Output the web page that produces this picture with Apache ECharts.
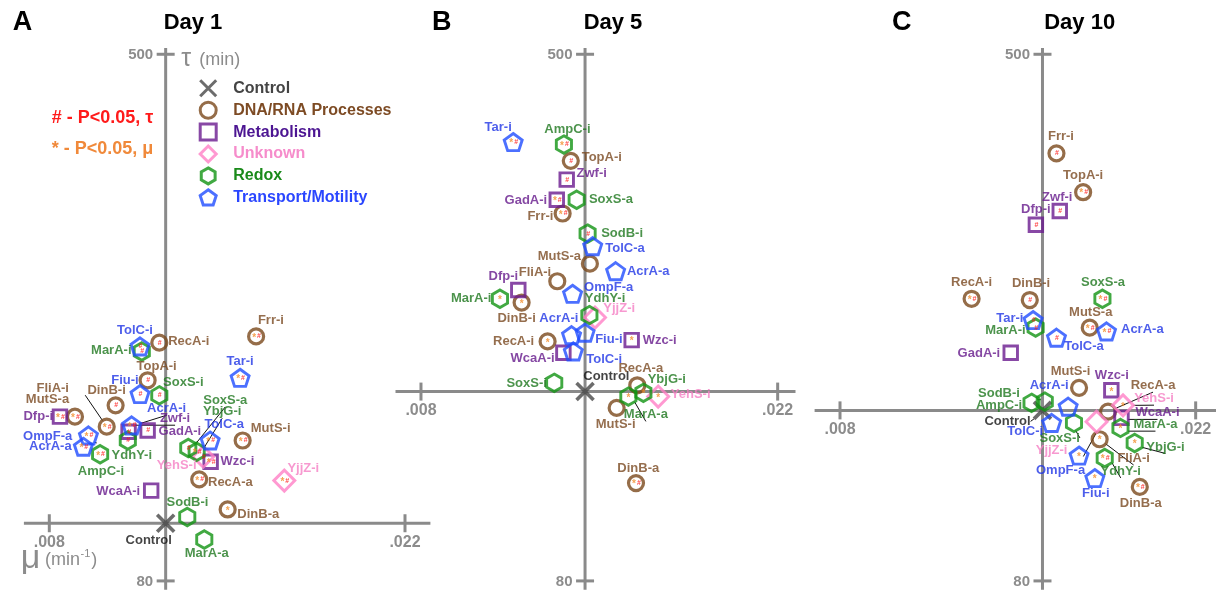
<!DOCTYPE html>
<html><head><meta charset="utf-8">
<script src="https://cdn.jsdelivr.net/npm/echarts@6/dist/echarts.min.js"></script>
<style>html,body{margin:0;padding:0;background:#fff}#chart{width:1216px;height:596px}</style>
</head><body><div id="chart"></div>
<script>
// ---------------- data ----------------
const groupKeys = ['C', 'D', 'M', 'U', 'R', 'T'];
const groupNames = ['Control', 'DNA/RNA Processes', 'Metabolism', 'Unknown', 'Redox', 'Transport/Motility'];
const panelLetters = ['A', 'B', 'C'];
const panelTitles = ['Day 1', 'Day 5', 'Day 10'];
const xTickValues = [0.008, 0.022];
const xTickLabels = ['.008', '.022'];
const yTickValues = [500, 80];
const yTickLabels = ['500', '80'];

const day1Names = ['Control','TolC-i','MarA-i','RecA-i','TopA-i','Fiu-i','SoxS-i','DinB-i','FliA-i','MutS-a','Dfp-i','AcrA-i','Zwf-i','GadA-i','YdhY-i','OmpF-a','AcrA-a','AmpC-i','WcaA-i','Frr-i','Tar-i','SoxS-a','YbjG-i','TolC-a','MutS-i','YehS-i','Wzc-i','RecA-a','YjjZ-i','SodB-i','DinB-a','MarA-a'];
const day1Groups = ['C','T','R','D','D','T','R','D','D','D','M','T','M','M','R','T','T','R','M','D','T','R','R','T','D','U','M','D','U','R','D','R'];
const day1Mu = [0.01258,0.01157,0.01164,0.01233,0.01187,0.01157,0.01233,0.01061,0.01026,0.00901,0.00842,0.01124,0.01112,0.01187,0.01109,0.00954,0.00934,0.01000,0.01201,0.01614,0.01551,0.01347,0.01380,0.01433,0.01561,0.01406,0.01435,0.01390,0.01725,0.01343,0.01502,0.01410];
const day1Tau = [126,267,263,270,240,229,228,220,203,211,211,204,199,200,192,196,187,181,152,275,242,186,183,192,192,179,175,161,160,131,137,113];
const day1Sig = ['','#','#','#','#','#','#','#','*#','*#','*#','*#','#','#','#','*#','*#','*#','','*#','*#','#','*#','*#','*#','#','*#','*#','*#','','*',''];

const day5Names = ['Control','Tar-i','AmpC-i','TopA-i','Zwf-i','GadA-i','SoxS-a','Frr-i','SodB-i','TolC-a','MutS-a','AcrA-a','FliA-i','Dfp-i','MarA-i','DinB-i','OmpF-a','YdhY-i','YjjZ-i','AcrA-i','Fiu-i','Wzc-i','RecA-i','WcaA-i','TolC-i','SoxS-i','RecA-a','YbjG-i','MarA-a','YehS-i','MutS-i','DinB-a'];
const day5Groups = ['C','T','R','D','M','M','R','D','R','T','D','T','D','M','R','D','T','R','U','T','T','M','D','M','T','R','D','R','R','U','D','D'];
const day5Mu = [0.01444,0.01162,0.01361,0.01388,0.01372,0.01333,0.01411,0.01356,0.01454,0.01474,0.01463,0.01564,0.01335,0.01182,0.01110,0.01195,0.01395,0.01461,0.01483,0.01391,0.01444,0.01627,0.01297,0.01359,0.01398,0.01323,0.01649,0.01673,0.01614,0.01731,0.01568,0.01644];
const day5Tau = [231,430,428,415,400,384,384,373,357,347,333,327,319,312,305,302,309,292,290,276,278,272,271,262,263,238,236,230,227,227,218,158];
const day5Sig = ['','*#','*#','#','#','*#','','*#','#','','','','','','*','*','','','','','','*','*','','','','','*','*','*','','*#'];

const day10Names = ['Control','Frr-i','TopA-i','Zwf-i','Dfp-i','RecA-i','DinB-i','SoxS-a','Tar-i','MarA-i','MutS-a','AcrA-a','TolC-a','GadA-i','MutS-i','Wzc-i','RecA-a','YehS-i','WcaA-i','MarA-a','YjjZ-i','FliA-i','YbjG-i','YdhY-i','OmpF-a','Fiu-i','DinB-a','SoxS-i','TolC-i','AcrA-i','SodB-i','AmpC-i'];
const day10Groups = ['C','D','D','M','M','D','D','R','T','R','D','T','T','M','D','M','D','U','M','R','U','D','R','R','T','T','D','R','T','T','R','R'];
const day10Mu = [0.01597,0.01652,0.01757,0.01665,0.01571,0.01318,0.01547,0.01833,0.01560,0.01570,0.01783,0.01849,0.01652,0.01472,0.01741,0.01868,0.01855,0.01914,0.01908,0.01904,0.01810,0.01822,0.01960,0.01842,0.01741,0.01803,0.01980,0.01721,0.01633,0.01698,0.01606,0.01554];
const day10Tau = [216,421,390,375,364,305,304,305,288,282,282,279,274,262,234,232,215,220,210,202,207,193,190,178,180,162,155,206,206,219,223,222];
const day10Sig = ['','#','*#','#','#','*#','#','*#','#','#','*#','*#','#','','','*','','*','','*','','*','*','*#','*','*','*#','','','','',''];

// ---------------- label placement (style, px offsets of label centre) ----------------
const day1LabelOffsets = [[-17,17,0],[-5,-16,0],[-30.5,-1,0],[29.5,-1.6,0],[9,-14,0],[-15,-14,0],[24,-13,0],[-9,-15,0],[-54,-38,1],[-27.5,-17,1],[-21.7,0,0],[35,-16.7,1],[46.5,-13,1],[32.3,0.7,0],[4,15,0],[-40.8,1,1],[-33,0,0],[0.8,16.7,0],[-33,0.4,0],[14.8,-16,0],[0,-16,0],[37,-47.6,1],[25.6,-40,1],[14,-16,0],[28,-12.3,0],[-26.6,8.3,0],[26.8,0,0],[31.2,3.3,0],[19,-11.7,0],[0.2,-14.4,0],[30.6,5,0],[2.4,14.3,0]];
const day5LabelOffsets = [[21.3,-15,0],[-15,-15,0],[3.5,-15,0],[31,-3,0],[25,-6,0],[-30.9,0.7,0],[34.3,0,0],[-22.2,2.7,0],[34.5,0,0],[32.3,2.6,0],[-30.5,-7.6,0],[32.6,0,0],[-22.3,-8.4,0],[-15,-13.4,0],[-28.8,0,0],[-5,15.6,0],[36.1,-6,0],[15.7,-16.7,0],[24.2,-8.7,0],[-12.7,-16.7,0],[23.8,6.7,0],[28,0,0],[-34,0,0],[-30.8,6,0],[30.9,8.3,0],[-27.6,0.7,0],[3.5,-16.7,0],[23.4,-13.3,0],[17.5,18.3,1],[32.5,-2.4,0],[-1,16.7,0],[2.3,-15,0]];
const day10LabelOffsets = [[-35,11,1],[4.5,-16.6,0],[0,-17,0],[-2.5,-14,0],[0,-15.7,0],[0,-16.6,0],[1.3,-16.7,0],[0.6,-16.6,0],[-23.3,-1.7,0],[-30.2,2.7,0],[1,-15.6,0],[35.8,-2.4,0],[27.5,8.4,0],[-31.8,0.4,0],[-8.5,-16,0],[0.5,-15,0],[45,-26,1],[31,-6.7,1],[36,-5,1],[35,-3.3,1],[-45,28.3,1],[34,19.3,1],[30.8,4,1],[16,13.4,1],[-18.5,15,0],[1,15.7,0],[1,16.7,0],[-14.3,15,1],[-26.4,8.4,0],[-19,-21.7,1],[-45.8,-8.4,1],[-32.5,2.3,0]];

// ---------------- styles ----------------
const FONT = '"Liberation Sans", Arial, Helvetica, sans-serif';
const AXIS_COLOR = '#8a8a8a';
const AXIS_TEXT = '#8c8c8c';
const GROUP_STYLE = {
  C: {symbol: 'path://M-1,-1L1,1M1,-1L-1,1', size: 17, stroke: '#474747', width: 3.6, text: '#141414', legend: '#444444'},
  D: {symbol: 'circle', size: 15, stroke: '#7b481b', width: 3.2, text: '#7a4a22', legend: '#7d4b24'},
  M: {symbol: 'rect', size: 13.5, stroke: '#6a1a8e', width: 2.9, text: '#661a8c', legend: '#4c1592'},
  U: {symbol: 'diamond', size: 21, stroke: '#ff80c6', width: 2.9, text: '#f57fc4', legend: '#f68ccb'},
  R: {symbol: 'path://M0,-1L0.866,-0.5L0.866,0.5L0,1L-0.866,0.5L-0.866,-0.5Z', size: 17.5, stroke: '#129413', width: 2.9, text: '#1f781f', legend: '#1a8a1a'},
  T: {symbol: 'path://M0,-1L0.951,-0.309L0.588,0.809L-0.588,0.809L-0.951,-0.309Z', size: 18, stroke: '#1f4cff', width: 2.9, text: '#2036e6', legend: '#2a46ff'}
};
const panels = [
  {names: day1Names, groups: day1Groups, mu: day1Mu, tau: day1Tau, sig: day1Sig, offs: day1LabelOffsets},
  {names: day5Names, groups: day5Groups, mu: day5Mu, tau: day5Tau, sig: day5Sig, offs: day5LabelOffsets},
  {names: day10Names, groups: day10Groups, mu: day10Mu, tau: day10Tau, sig: day10Sig, offs: day10LabelOffsets}
];
const gridPx = [
  {left: 23.9, width: 406.5, xmax: 0.023},
  {left: 395.5, width: 400, xmax: 0.0227},
  {left: 814.6, width: 401.8, xmax: 0.0228}
];

function makeAxisRender(panel) {
  return function (params, api) {
    const cs = params.coordSys;
    const cx = api.value(0), cy = api.value(1);
    const o = api.coord([cx, cy]);
    const line = (x1, y1, x2, y2) => ({type: 'line', shape: {x1, y1, x2, y2}, style: {stroke: AXIS_COLOR, lineWidth: 3}, silent: true});
    const text = (x, y, t, align, font) => ({type: 'text', x, y, style: {text: t, align, verticalAlign: 'middle', font, fill: AXIS_TEXT}, silent: true});
    const ch = [];
    ch.push(line(cs.x, o[1], cs.x + cs.width, o[1]));
    ch.push(line(o[0], cs.y, o[0], cs.y + cs.height));
    xTickValues.forEach((v, i) => {
      const p = api.coord([v, cy]);
      ch.push(line(p[0], p[1] - 9, p[0], p[1] + 9));
      ch.push(text(p[0], p[1] + 19, xTickLabels[i], 'center', 'bold 16px ' + FONT));
    });
    yTickValues.forEach((v, i) => {
      const p = api.coord([cx, v]);
      ch.push(line(p[0] - 9, p[1], p[0] + 9, p[1]));
      ch.push(text(p[0] - 12.5, p[1] + 0.5, yTickLabels[i], 'right', 'bold 15px ' + FONT));
    });
    if (panel === 0) {
      const top = api.coord([cx, yTickValues[0]]);
      ch.push(text(top[0] + 15.5, top[1] + 5, 'τ', 'left', '25px ' + FONT));
      ch.push(text(top[0] + 33.5, top[1] + 6, '(min)', 'left', '18px ' + FONT));
      const lft = api.coord([xTickValues[0], cy]);
      ch.push(text(lft[0] - 28.5, lft[1] + 35, 'μ', 'left', '34px ' + FONT));
      ch.push(text(lft[0] - 4.3, lft[1] + 37, '(min', 'left', '18px ' + FONT));
      ch.push(text(lft[0] + 31.2, lft[1] + 30.5, '-1', 'left', '11px ' + FONT));
      ch.push(text(lft[0] + 42, lft[1] + 37, ')', 'left', '18px ' + FONT));
    }
    return {type: 'group', children: ch};
  };
}

const series = [];
panels.forEach((pd, p) => {
  const ci = pd.groups.indexOf('C');
  series.push({
    type: 'custom', name: 'axes' + p, xAxisIndex: p, yAxisIndex: p, z: 1, silent: true,
    renderItem: makeAxisRender(p), data: [[pd.mu[ci], pd.tau[ci]]], encode: {x: 0, y: 1}
  });
  groupKeys.forEach((g, gi) => {
    const st = GROUP_STYLE[g];
    const data = [];
    pd.names.forEach((n, i) => {
      if (pd.groups[i] !== g) return;
      const off = pd.offs[i];
      data.push({name: n, value: [pd.mu[i], pd.tau[i]], label: {offset: [off[0], off[1]]}, labelLine: {show: !!off[2]}});
    });
    series.push({
      type: 'scatter', name: groupNames[gi], xAxisIndex: p, yAxisIndex: p, z: 3,
      symbol: st.symbol, symbolSize: st.size, symbolKeepAspect: true,
      itemStyle: {color: 'rgba(0,0,0,0)', borderColor: st.stroke, borderWidth: st.width},
      label: {show: true, position: 'inside', formatter: '{b}', color: st.text, fontSize: 13, fontWeight: 'bold', fontFamily: FONT, textBorderWidth: 0},
      labelLine: {show: false, lineStyle: {color: '#111', width: 1}},
      emphasis: {disabled: true},
      data
    });
  });
  const sigData = [];
  pd.names.forEach((n, i) => { if (pd.sig[i]) sigData.push({name: n, value: [pd.mu[i], pd.tau[i]], sig: pd.sig[i]}); });
  series.push({
    type: 'scatter', name: 'significance' + p, xAxisIndex: p, yAxisIndex: p, z: 4, silent: true,
    symbolSize: 1, itemStyle: {color: 'rgba(0,0,0,0)'},
    label: {
      show: true, position: 'inside', offset: [0.5, 0],
      formatter: q => (q.data.sig.includes('*') ? '{s|*}' : '') + (q.data.sig.includes('#') ? '{h|#}' : ''),
      rich: {
        s: {color: '#f28c28', fontSize: 10, fontWeight: 'bold', fontFamily: FONT, padding: [3, 1, 0, 0]},
        h: {color: '#ff1414', fontSize: 7, fontWeight: 'bold', fontFamily: FONT}
      }
    },
    emphasis: {disabled: true},
    data: sigData
  });
});

const graphic = [];
const letterX = [22.5, 441.7, 901.7];
const titleX = [193, 613, 1079.7];
for (let p = 0; p < 3; p++) {
  graphic.push({type: 'text', x: letterX[p], y: 23, style: {text: panelLetters[p], align: 'center', verticalAlign: 'middle', font: 'bold 27px ' + FONT, fill: '#000'}});
  graphic.push({type: 'text', x: titleX[p], y: 23, style: {text: panelTitles[p], align: 'center', verticalAlign: 'middle', font: 'bold 22px ' + FONT, fill: '#000'}});
}
graphic.push({type: 'text', x: 153.3, y: 118.5, style: {text: '# - P<0.05, τ', align: 'right', verticalAlign: 'middle', font: 'bold 18px ' + FONT, fill: '#ff1a1a'}});
graphic.push({type: 'text', x: 153.3, y: 149.5, style: {text: '* - P<0.05, μ', align: 'right', verticalAlign: 'middle', font: 'bold 18px ' + FONT, fill: '#f0893a'}});

const chart = echarts.init(document.getElementById('chart'), null, {renderer: 'canvas'});
chart.setOption({
  animation: false,
  backgroundColor: '#ffffff',
  grid: gridPx.map(g => ({left: g.left, width: g.width, top: 48, height: 541.7, containLabel: false})),
  xAxis: gridPx.map((g, i) => ({type: 'value', gridIndex: i, min: 0.007, max: g.xmax, show: false})),
  yAxis: gridPx.map((g, i) => ({type: 'value', gridIndex: i, min: 73, max: 505, show: false})),
  legend: {
    orient: 'vertical', left: 198.7, top: 78.8, padding: 0, itemWidth: 16, itemHeight: 16, itemGap: 2.9,
    selectedMode: false,
    textStyle: {fontSize: 16, fontWeight: 'bold', fontFamily: FONT, padding: [0, 0, 0, 12]},
    data: groupKeys.map((g, gi) => ({
      name: groupNames[gi], icon: GROUP_STYLE[g].symbol,
      itemStyle: {color: 'rgba(0,0,0,0)', borderColor: GROUP_STYLE[g].stroke, borderWidth: 3},
      textStyle: {color: GROUP_STYLE[g].legend}
    }))
  },
  graphic,
  series
});
</script>
</body></html>
